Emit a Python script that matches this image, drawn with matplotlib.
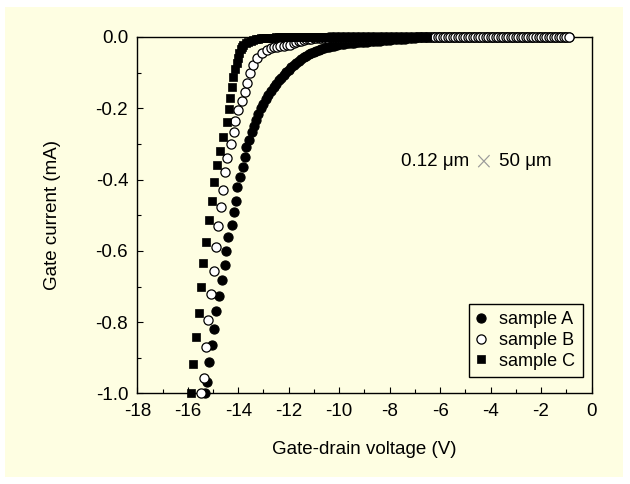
import numpy as np
import matplotlib
matplotlib.use("Agg")
import matplotlib.pyplot as plt
from matplotlib.patches import Rectangle
from matplotlib.ticker import MultipleLocator, FormatStrFormatter

plt.rcParams["font.family"] = ["Liberation Sans", "DejaVu Sans"]
plt.rcParams["axes.unicode_minus"] = False

BG = "#fefee2"

# gate-drain voltage (V) / gate current (mA)
A_V = [-15.31, -15.25, -15.17, -15.04, -14.94, -14.88, -14.77, -14.64, -14.53, -14.48,
       -14.39, -14.24, -14.16, -14.08, -14.03, -13.92, -13.82, -13.73, -13.69, -13.56,
       -13.46, -13.37, -13.30, -13.20, -13.10, -13.00, -12.90, -12.80, -12.70, -12.60,
       -12.50, -12.40, -12.30, -12.20, -12.10, -12.00, -11.90, -11.80, -11.70, -11.60,
       -11.50, -11.40, -11.30, -11.20, -11.10, -11.00, -10.90, -10.80, -10.70, -10.60,
       -10.50, -10.40, -10.30, -10.20, -10.10, -10.00, -9.90, -9.80, -9.70, -9.60,
       -9.50, -9.40, -9.30, -9.20, -9.10, -9.00, -8.90, -8.80, -8.70, -8.60,
       -8.50, -8.40, -8.30, -8.20, -8.10, -8.00, -7.90, -7.80, -7.70, -7.60,
       -7.50, -7.40, -7.30, -7.20, -7.10, -7.00]
A_I = [-1.000, -0.967, -0.912, -0.864, -0.819, -0.770, -0.726, -0.682, -0.640, -0.600,
       -0.560, -0.527, -0.492, -0.460, -0.420, -0.392, -0.364, -0.337, -0.310, -0.289,
       -0.266, -0.250, -0.233, -0.215, -0.200, -0.187, -0.175, -0.163, -0.151, -0.140,
       -0.131, -0.122, -0.114, -0.106, -0.099, -0.092, -0.085, -0.079, -0.073, -0.067,
       -0.062, -0.057, -0.053, -0.049, -0.045, -0.042, -0.039, -0.036, -0.034, -0.031,
       -0.029, -0.027, -0.025, -0.024, -0.022, -0.021, -0.020, -0.019, -0.018, -0.017,
       -0.017, -0.016, -0.015, -0.015, -0.014, -0.014, -0.013, -0.012, -0.012, -0.011,
       -0.010, -0.010, -0.009, -0.009, -0.008, -0.008, -0.007, -0.007, -0.006, -0.006,
       -0.005, -0.005, -0.004, -0.004, -0.003, -0.003]

B_V = [-15.47, -15.35, -15.26, -15.18, -15.08, -14.94, -14.88, -14.79, -14.69, -14.60,
       -14.52, -14.43, -14.29, -14.16, -14.12, -13.99, -13.86, -13.73, -13.66, -13.53,
       -13.40, -13.26, -13.06, -12.87, -12.70, -12.60, -12.47, -12.35, -12.20, -12.07,
       -11.94, -11.80, -11.70, -11.60, -11.50, -11.40, -11.30, -11.20, -11.10, -11.00,
       -10.90, -10.80, -10.70, -10.60, -10.50, -10.40, -10.30, -10.20, -10.10]
B_I = [-1.000, -0.956, -0.869, -0.794, -0.722, -0.656, -0.588, -0.530, -0.478, -0.428,
       -0.378, -0.340, -0.300, -0.266, -0.235, -0.205, -0.180, -0.153, -0.130, -0.102,
       -0.079, -0.060, -0.046, -0.036, -0.031, -0.029, -0.027, -0.025, -0.024, -0.023,
       -0.022, -0.018, -0.015, -0.012, -0.010, -0.008, -0.007, -0.006, -0.005, -0.004,
       -0.004, -0.003, -0.003, -0.002, -0.002, -0.001, -0.001, -0.001, 0.000]

C_V = [-15.87, -15.78, -15.66, -15.56, -15.48, -15.38, -15.26, -15.15, -15.05, -14.94,
       -14.85, -14.74, -14.59, -14.45, -14.35, -14.32, -14.25, -14.19, -14.12, -14.06,
       -14.00, -13.95, -13.90, -13.86, -13.80, -13.70, -13.60, -13.50, -13.40, -13.30,
       -13.20, -13.10, -13.00, -12.90, -12.80, -12.70, -12.60, -12.50, -12.40]
C_I = [-1.000, -0.917, -0.842, -0.775, -0.702, -0.635, -0.574, -0.513, -0.460, -0.408,
       -0.359, -0.320, -0.280, -0.238, -0.203, -0.170, -0.139, -0.111, -0.090, -0.074,
       -0.058, -0.045, -0.035, -0.027, -0.022, -0.018, -0.014, -0.011, -0.008, -0.006,
       -0.005, -0.004, -0.004, -0.003, -0.003, -0.002, -0.002, -0.001, -0.001]

# flat part of the sweep where every sample reads 0 mA
TAIL_V = np.array([
    -12.3, -12.2, -12.1, -12.0, -11.9, -11.8, -11.7, -11.6, -11.5, -11.4,
    -11.3, -11.2, -11.1, -11.0, -10.9, -10.8, -10.7, -10.6, -10.5, -10.4,
    -10.3, -10.2, -10.1, -10.0, -9.9, -9.8, -9.7, -9.6, -9.5, -9.4,
    -9.3, -9.2, -9.1, -9.0, -8.9, -8.8, -8.7, -8.6, -8.5, -8.4,
    -8.3, -8.2, -8.1, -8.0, -7.9, -7.8, -7.7, -7.6, -7.5, -7.4,
    -7.3, -7.2, -7.1, -7.0, -6.9, -6.8, -6.7, -6.6, -6.5, -6.4,
    -6.3, -6.2, -6.1, -6.0, -5.9, -5.8, -5.7, -5.6, -5.5, -5.4,
    -5.3, -5.2, -5.1, -5.0, -4.9, -4.8, -4.7, -4.6, -4.5, -4.4,
    -4.3, -4.2, -4.1, -4.0, -3.9, -3.8, -3.7, -3.6, -3.5, -3.4,
    -3.3, -3.2, -3.1, -3.0, -2.9, -2.8, -2.7, -2.6, -2.5, -2.4,
    -2.3, -2.2, -2.1, -2.0, -1.9, -1.8, -1.7, -1.6, -1.5, -1.4,
    -1.3, -1.2, -1.1, -1.0, -0.9])
TAIL_START = {"A": -6.95, "B": -10.05, "C": -12.35}
TAIL_END = {"A": 0.0, "B": 0.0, "C": -6.45}

LABELS = ["sample A", "sample B", "sample C"]

fig = plt.figure(figsize=(6.3, 4.84), dpi=100)
fig.patch.set_facecolor("white")
fig.patches.append(Rectangle((5 / 630, 7 / 484), 618 / 630, 470 / 484,
                             transform=fig.transFigure, facecolor=BG,
                             edgecolor="none", zorder=-10))
ax = fig.add_axes([0.2179, 0.1870, 0.7210, 0.7366])
ax.set_facecolor(BG)

def series(key, v, i):
    m = (TAIL_V > TAIL_START[key]) & (TAIL_V < TAIL_END[key])
    tv = TAIL_V[m]
    return np.concatenate([v, tv]), np.concatenate([i, np.zeros_like(tv)])

styles = {
    "A": dict(marker="o", mfc="black", mec="black", ms=6.6, mew=0.8),
    "B": dict(marker="o", mfc="white", mec="black", ms=6.6, mew=0.9),
    "C": dict(marker="s", mfc="black", mec="black", ms=6.3, mew=0.5),
}
for key, v, i, lab in [("A", A_V, A_I, LABELS[0]), ("B", B_V, B_I, LABELS[1]),
                       ("C", C_V, C_I, LABELS[2])]:
    x, y = series(key, v, i)
    ax.plot(x, y, ls="none", label=lab, clip_on=False, zorder=3, **styles[key])

ax.set_xlim(-18, 0)
ax.set_ylim(-1.0, 0.0)
ax.xaxis.set_major_locator(MultipleLocator(2))
ax.xaxis.set_minor_locator(MultipleLocator(1))
ax.yaxis.set_major_locator(MultipleLocator(0.2))
ax.yaxis.set_minor_locator(MultipleLocator(0.1))
ax.yaxis.set_major_formatter(FormatStrFormatter("%.1f"))
ax.tick_params(which="both", direction="in", top=False, right=False,
               width=0.8, labelsize=13.5)
ax.tick_params(which="major", length=4.3)
ax.tick_params(which="minor", length=2.9)
ax.tick_params(axis="y", pad=6.5)
ax.tick_params(axis="x", pad=6.5)
for s in ax.spines.values():
    s.set_linewidth(1.0)

ax.set_xlabel("Gate-drain voltage (V)", fontsize=13.5)
ax.set_ylabel("Gate current (mA)", fontsize=13.5)
ax.xaxis.set_label_coords(0.5, -0.133)
ax.yaxis.set_label_coords(-0.168, 0.5)

# device size note
ax.text(-4.85, -0.348, "0.12 μm", ha="right", va="center", fontsize=13.5)
ax.text(-4.29, -0.348, "×", ha="center", va="center", fontsize=17,
        color="#9a9a9a", family="DejaVu Sans", fontweight=200)
ax.text(-3.65, -0.348, "50 μm", ha="left", va="center", fontsize=13.5)

leg = ax.legend(loc="lower right", bbox_to_anchor=(0.981, 0.046), borderaxespad=0,
                fontsize=13, frameon=True, fancybox=False, handlelength=0.45,
                handletextpad=0.8, labelspacing=0.2, borderpad=0.42)
leg.get_frame().set_edgecolor("black")
leg.get_frame().set_facecolor(BG)
leg.get_frame().set_linewidth(1.0)
leg.get_frame().set_alpha(None)

fig.savefig("out.png", dpi=100, facecolor="white")
